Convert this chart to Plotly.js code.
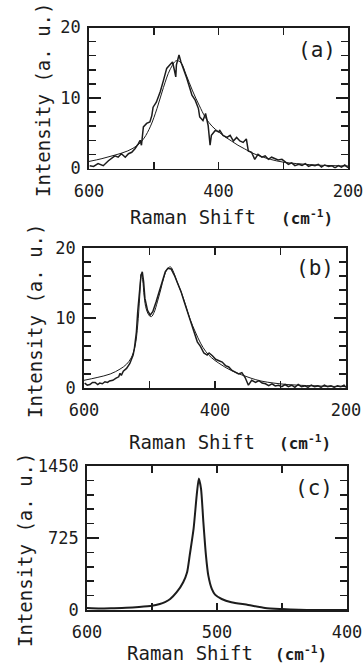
<!DOCTYPE html>
<html><head><meta charset="utf-8">
<script src="https://cdn.plot.ly/plotly-3.0.1.min.js"></script>
<style>html,body{margin:0;padding:0;background:#fff}#chart{width:364px;height:669px}</style>
</head><body><div id="chart"></div>
<script>
// Panel (a): measured spectrum and fit
const aExpX = [599,593,586,578,570,565,560,555,550,544,539,534,529,524,521,519,516,511,506,503,501,496,490,485,480,475,471,468,466,465,461,458,454,449,444,441,436,431,429,424,420,416,413,411,405,400,398,393,387,382,377,372,367,362,357,354,349,344,339,333,328,323,318,313,308,302,297,292,287,282,276,271,266,261,256,251,246,241,236,230,225,220,215,210,205,200];
const aExpY = [0.4,0.3,0.7,0.4,1.1,1.4,1.8,1.6,2.1,1.6,2.1,2.3,2.8,3.5,4.0,3.3,5.9,6.4,6.6,7.5,8.7,9.4,10.9,12.5,14.2,14.7,15.1,13.9,13.0,14.7,16.1,15.1,14.2,12.8,11.3,10.4,9.7,8.5,7.3,6.8,7.8,6.1,3.3,4.7,5.4,5.2,5.4,4.7,4.4,4.7,3.9,4.4,3.9,3.7,4.2,2.5,2.3,1.3,2.0,1.6,1.8,1.3,1.6,1.4,1.2,1.3,0.9,0.6,0.8,0.4,0.6,0.45,0.7,0.3,0.5,0.4,0.6,0.2,0.5,0.3,0.4,0.1,0.4,0.2,0.5,0.1];
const aFitX = [600,580,560,540,525,515,505,495,485,475,465,458,450,440,430,420,410,400,390,380,370,360,350,340,320,300,280,260,240,220,200];
const aFitY = [1.0,1.4,1.9,2.5,3.3,4.3,6.0,8.5,11.5,14.0,15.3,15.0,13.3,11.0,9.0,7.2,6.0,5.2,4.5,3.9,3.3,2.8,2.3,1.9,1.3,0.9,0.7,0.55,0.45,0.4,0.35];

// Panel (b)
const bExpX = [599,595,591,587,583,579,576,572,568,564,561,556,551,547,545,543,540,535,530,525,523,520,518,515,513,511,509,507,503,499,495,490,485,480,476,472,467,462,457,452,447,442,437,432,427,422,417,412,409,404,399,394,389,384,379,374,369,364,359,354,349,344,338,333,328,323,318,313,308,303,298,293,288,283,278,273,268,263,258,253,248,243,238,233,228,223,218,213,208,203,200];
const bExpY = [0.7,0.4,0.5,0.8,0.8,0.5,0.7,0.6,0.9,0.8,1.0,1.1,1.4,1.6,2.1,1.8,2.4,2.8,3.5,4.7,5.7,8.0,10.9,13.8,16.1,16.6,15.2,12.8,11.1,10.4,10.9,12.3,13.8,15.2,16.6,17.1,17.0,16.1,15.0,13.8,12.3,10.9,9.5,8.1,6.6,5.9,5.0,4.7,5.0,4.6,4.1,3.9,3.7,3.2,3.0,2.5,2.2,2.0,2.2,1.5,0.4,1.1,0.8,1.05,0.7,0.6,0.35,0.6,0.3,0.4,0.2,0.5,0.2,0.4,0.1,0.5,0.2,0.3,0.1,0.4,0.2,0.3,0.1,0.4,0.2,0.3,0.1,0.3,0.2,0.4,0.1];
const bFitX = [600,580,560,545,535,528,522,518,515,512.5,510.5,508,505,500,497,493,488,483,478,473,468,463,458,452,445,438,430,422,414,405,395,385,375,360,345,330,310,290,260,230,200];
const bFitY = [1.1,1.5,2.0,2.7,3.4,4.3,6.0,9.0,13.0,16.3,15.5,13.0,11.3,10.3,10.2,10.8,12.3,14.0,15.8,17.0,17.3,16.5,15.2,13.8,11.9,9.8,8.0,6.4,5.2,4.3,3.6,3.0,2.5,1.9,1.4,1.0,0.7,0.5,0.35,0.25,0.2];

// Panel (c)
const cX = [600,590,580,570,560,550,544,540,536,531,526,523,521,518,515.6,514,512.3,510.5,508.5,506.7,504,501.5,496.4,489,476,463,450,437,425,410,400];
const cY = [20,15,18,22,30,42,60,80,111,179,280,381,550,819,1157,1325,1223,887,550,348,212,155,111,78,51,20,10,3,0,0,0];

// Tick labels
const abTickVals = [600,400,200];
const cTickVals = [600,500,400];
const abYTickVals = [0,10,20];
const cYTickVals = [0,725,1450];

const ink = '#1c1c1c';
const mono = 'DejaVu Sans Mono';

const traces = [
  {x:aFitX,y:aFitY,xaxis:'x',yaxis:'y',mode:'lines',line:{color:ink,width:1,shape:'spline'}},
  {x:aExpX,y:aExpY,xaxis:'x',yaxis:'y',mode:'lines',line:{color:ink,width:1.5}},
  {x:bFitX,y:bFitY,xaxis:'x2',yaxis:'y2',mode:'lines',line:{color:ink,width:1,shape:'spline'}},
  {x:bExpX,y:bExpY,xaxis:'x2',yaxis:'y2',mode:'lines',line:{color:ink,width:1.5}},
  {x:cX,y:cY,xaxis:'x3',yaxis:'y3',mode:'lines',line:{color:ink,width:2,shape:'spline',smoothing:0.6}}
];

function xax(dom, anchor, range, tv, minorDt) {
  return {domain:dom, anchor:anchor, range:range, tickmode:'array', tickvals:tv,
    ticks:'inside', ticklen:7, tickwidth:1.5, tickcolor:ink, showline:true, linecolor:ink, linewidth:1.8,
    mirror:'allticks', showgrid:false, zeroline:false, ticklabelstandoff:6, tickfont:{family:mono,size:17,color:ink},
    minor:{dtick:minorDt, tick0:0, ticks:'inside', ticklen:7, tickwidth:1.5, tickcolor:ink, showgrid:false}};
}
function yax(dom, anchor, range, tv, minorDt) {
  return {domain:dom, anchor:anchor, range:range, tickmode:'array', tickvals:tv,
    ticks:'inside', ticklen:12, tickwidth:1.5, tickcolor:ink, showline:true, linecolor:ink, linewidth:1.8,
    mirror:'allticks', showgrid:false, zeroline:false, ticklabelstandoff:3, tickfont:{family:mono,size:17,color:ink},
    minor:{dtick:minorDt, tick0:0, ticks:'inside', ticklen:7, tickwidth:1.5, tickcolor:ink, showgrid:false}};
}

const H = 669, W = 364;
const py = v => (H - v)/H, px = v => v/W;

const ann = [];
function a(text, x, y, size, extra) {
  ann.push(Object.assign({text:text, x:px(x), y:py(y), xref:'paper', yref:'paper', showarrow:false,
    xanchor:'center', yanchor:'middle', font:{family:mono,size:size,color:ink}}, extra||{}));
}
function addTitles(yx, yy, xx, xy, cx, lx, ly, lab) {
  a('Intensity (a. u.)', yx, yy, 19, {textangle:-90});
  a('Raman Shift', xx, xy, 19);
  a('<b>(cm<sup>-1</sup>)</b>', cx, xy, 16);
  a(lab, lx, ly, 21);
}
addTitles(43,100,193,217,307,317,50,'(a)');
addTitles(35,321,192,442,305,315,268,'(b)');
addTitles(25,550,190,653,301,314,488,'(c)');

const layout = {
  width:W, height:H, margin:{l:0,r:0,t:0,b:0}, showlegend:false,
  paper_bgcolor:'#fff', plot_bgcolor:'#fff',
  xaxis: xax([px(89),px(348)], 'y', [600,200], abTickVals, 100),
  yaxis: yax([py(168.5),py(27.5)], 'x', [0,20], abYTickVals, 2),
  xaxis2: xax([px(84),px(346)], 'y2', [600,200], abTickVals, 100),
  yaxis2: yax([py(388),py(248)], 'x2', [0,20], abYTickVals, 2),
  xaxis3: xax([px(87),px(347)], 'y3', [600,400], cTickVals, 50),
  yaxis3: yax([py(610),py(466)], 'x3', [0,1450], cYTickVals, 145),
  annotations: ann
};
Plotly.newPlot('chart', traces, layout, {staticPlot:true, displayModeBar:false});
</script></body></html>
